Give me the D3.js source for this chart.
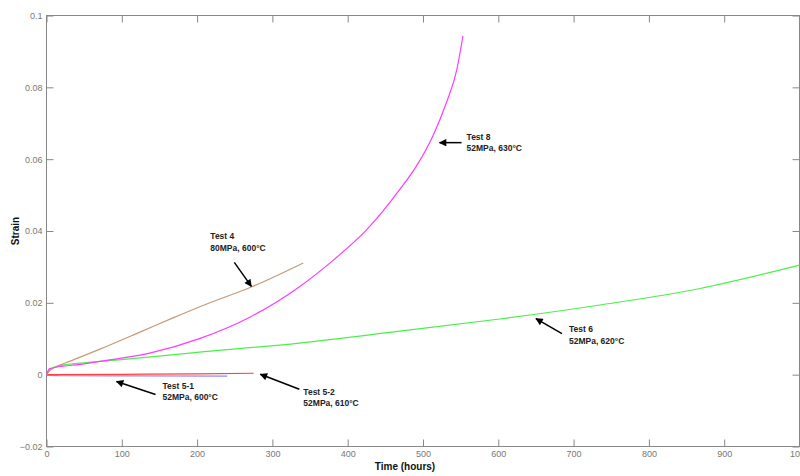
<!DOCTYPE html>
<html>
<head>
<meta charset="utf-8">
<script src="https://cdn.jsdelivr.net/npm/d3@7"></script>
<style>
  body { margin: 0; background: #fff; }
  svg { display: block; font-family: Arial, "Liberation Sans", sans-serif; }
  .tick text { fill: #777; font-size: 9px; }
  .tick line { stroke: #888; }
  .label { font-size: 10px; font-weight: bold; fill: #111; }
  .note { font-size: 8.5px; font-weight: bold; fill: #222; }
</style>
</head>
<body>
<svg width="800" height="476"></svg>
<script>
// data: time (hours) and strain for each test
var test4Time = [0, 5, 12, 26, 71, 128, 168, 212, 272, 341];
var test4Strain = [0, 0.0012, 0.0021, 0.0033, 0.0071, 0.0122, 0.0158, 0.0196, 0.0244, 0.0311];

var test8Time = [0, 4, 50, 84, 137, 204, 270, 336, 381, 425, 469, 491, 513, 531, 545, 553];
var test8Strain = [0, 0.0017, 0.003, 0.0041, 0.006, 0.0101, 0.016, 0.0245, 0.0319, 0.0403, 0.0515, 0.058, 0.0664, 0.0757, 0.085, 0.0943];

var test6Time = [0, 5, 20, 50, 100, 200, 336, 469, 602, 735, 868, 1000];
var test6Strain = [0, 0.0015, 0.0026, 0.0033, 0.0042, 0.0062, 0.0088, 0.0121, 0.0155, 0.0194, 0.024, 0.0305];

var test51Time = [0, 5, 20, 120, 240];
var test51Strain = [0, -0.0002, -0.0003, -0.00035, -0.0004];

var test52Time = [0, 100, 200, 275];
var test52Strain = [0, 0.0001, 0.0002, 0.0004];

var xTicks = [0, 100, 200, 300, 400, 500, 600, 700, 800, 900, 1000];
var yTicks = [-0.02, 0, 0.02, 0.04, 0.06, 0.08, 0.1];

var series = [
    { name: "Test 5-1", t: test51Time, s: test51Strain, color: "#8a8aff" },
    { name: "Test 5-2", t: test52Time, s: test52Strain, color: "#ff4040" },
    { name: "Test 6", t: test6Time, s: test6Strain, color: "#4cef4c" },
    { name: "Test 4", t: test4Time, s: test4Strain, color: "#c49a78" },
    { name: "Test 8", t: test8Time, s: test8Strain, color: "#ff3cff" }
];

// annotations: arrow tip in data units, tail and text as pixel offsets from the tip
var notes = [
    { l1: "Test 4", l2: "80MPa, 600°C", t: 272, s: 0.0246, tail: [-17, -24], txt: [-41, -47] },
    { l1: "Test 8", l2: "52MPa, 630°C", t: 522, s: 0.0646, tail: [22, 0], txt: [27, -3] },
    { l1: "Test 6", l2: "52MPa, 620°C", t: 650, s: 0.0156, tail: [26, 15], txt: [33, 13.5] },
    { l1: "Test 5-1", l2: "52MPa, 600°C", t: 93, s: -0.0019, tail: [39, 13], txt: [46, 7.5] },
    { l1: "Test 5-2", l2: "52MPa, 610°C", t: 284, s: 0.0001, tail: [39, 15], txt: [43, 20.5] }
];

var plotLeft = 46.5, plotRight = 799.5, plotTop = 15.5, plotBottom = 446.5;

var x = d3.scaleLinear().domain([0, 1000]).range([plotLeft, plotRight]);
var y = d3.scaleLinear().domain([-0.02, 0.1]).range([plotBottom, plotTop]);

var svg = d3.select("svg");

svg.append("defs").append("marker")
    .attr("id", "head")
    .attr("viewBox", "0 0 10 10")
    .attr("refX", 9).attr("refY", 5)
    .attr("markerWidth", 6).attr("markerHeight", 5)
    .attr("markerUnits", "strokeWidth")
    .attr("orient", "auto-start-reverse")
    .append("path")
    .attr("d", "M0,0L10,5L0,10z")
    .attr("fill", "#000");

// axes, ticks pointing inward on all four sides
svg.append("g").attr("class", "x axis")
    .attr("transform", "translate(0," + plotBottom + ")")
    .call(d3.axisBottom(x).tickValues(xTicks).tickSizeInner(-7).tickSizeOuter(0).tickPadding(4)
        .tickFormat(d3.format("d")));

svg.append("g").attr("class", "x axis")
    .attr("transform", "translate(0," + plotTop + ")")
    .call(d3.axisTop(x).tickValues(xTicks).tickSizeInner(-7).tickSizeOuter(0).tickFormat(""));

svg.append("g").attr("class", "y axis")
    .attr("transform", "translate(" + plotLeft + ",0)")
    .call(d3.axisLeft(y).tickValues(yTicks).tickSizeInner(-7).tickSizeOuter(0).tickPadding(4)
        .tickFormat(function(d) { return d3.format("~g")(d); }));

svg.append("g").attr("class", "y axis")
    .attr("transform", "translate(" + plotRight + ",0)")
    .call(d3.axisRight(y).tickValues(yTicks).tickSizeInner(-7).tickSizeOuter(0).tickFormat(""));

svg.selectAll(".axis .domain").remove();

svg.append("rect")
    .attr("x", plotLeft).attr("y", plotTop)
    .attr("width", plotRight - plotLeft).attr("height", plotBottom - plotTop)
    .attr("fill", "none").attr("stroke", "#888");

var line = d3.line()
    .x(function(d) { return x(d[0]); })
    .y(function(d) { return y(d[1]); })
    .curve(d3.curveMonotoneX);

svg.selectAll(".curve")
    .data(series)
    .enter()
    .append("path")
    .attr("class", "curve")
    .attr("d", function(d) { return line(d3.zip(d.t, d.s)); })
    .attr("fill", "none")
    .attr("stroke", function(d) { return d.color; })
    .attr("stroke-width", 1.2);

var note = svg.selectAll(".annot")
    .data(notes)
    .enter()
    .append("g")
    .attr("class", "annot")
    .attr("transform", function(d) { return "translate(" + x(d.t) + "," + y(d.s) + ")"; });

note.append("line")
    .attr("x1", function(d) { return d.tail[0]; })
    .attr("y1", function(d) { return d.tail[1]; })
    .attr("x2", 0).attr("y2", 0)
    .attr("stroke", "#000")
    .attr("stroke-width", 1.5)
    .attr("marker-end", "url(#head)");

note.append("text")
    .attr("class", "note")
    .attr("x", function(d) { return d.txt[0]; })
    .attr("y", function(d) { return d.txt[1]; })
    .text(function(d) { return d.l1; });

note.append("text")
    .attr("class", "note")
    .attr("x", function(d) { return d.txt[0]; })
    .attr("y", function(d) { return d.txt[1] + 11.5; })
    .text(function(d) { return d.l2; });

svg.append("text")
    .attr("class", "label")
    .attr("text-anchor", "middle")
    .attr("transform", "translate(405,470)")
    .text("Time (hours)");

svg.append("text")
    .attr("class", "label")
    .attr("text-anchor", "middle")
    .attr("transform", "translate(19,231) rotate(-90)")
    .text("Strain");
</script>
</body>
</html>
